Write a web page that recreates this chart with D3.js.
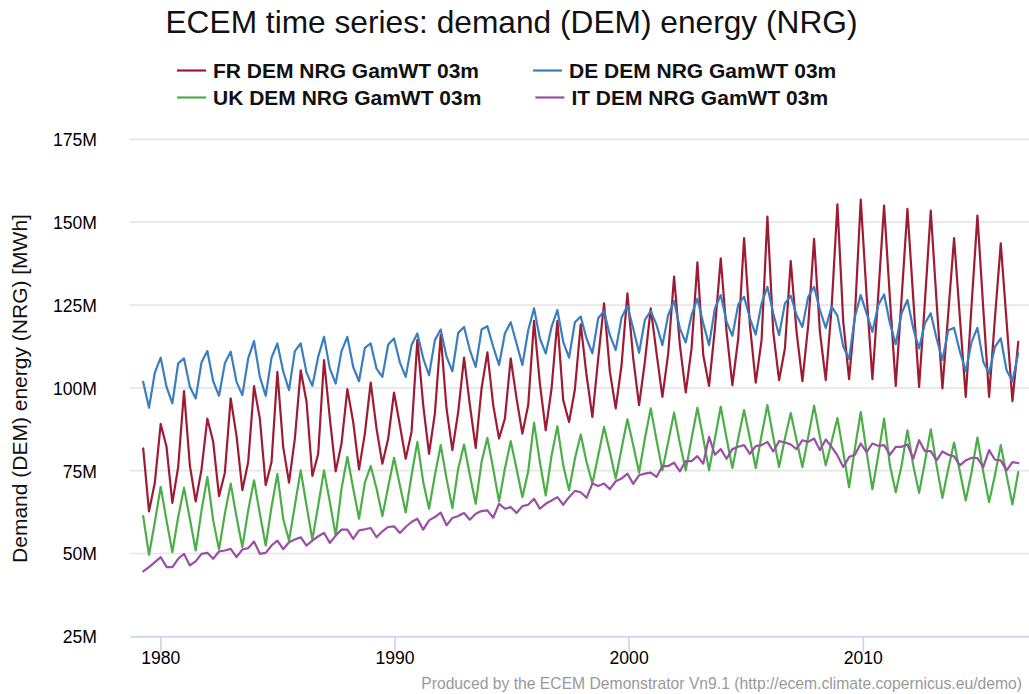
<!DOCTYPE html>
<style>
body { margin: 0; background: #fff; }
svg text { font-family: "Liberation Sans", Arial, sans-serif; }
</style>
<svg width="1029" height="694"></svg>
<script src="https://d3js.org/d3.v7.min.js"></script>
<script>

// quarterly values (MWh, millions), first point spring 1979
const frValues = [
	81.7, 62.7, 71.4, 89.1, 82.2, 65.3, 76.1, 99.0, 76.6, 65.7,
	75.4, 90.7, 83.7, 67.3, 74.4, 96.8, 85.5, 69.1, 77.6, 100.5,
	90.7, 70.6, 77.6, 104.8, 82.2, 71.4, 84.7, 105.3, 95.8, 73.4,
	80.1, 108.4, 90.7, 74.8, 83.2, 99.6, 89.7, 75.4, 86.2, 101.6,
	87.7, 77.1, 84.7, 98.6, 88.7, 78.6, 86.7, 114.5, 94.8, 80.1,
	92.2, 115.9, 93.7, 81.2, 92.7, 109.1, 94.8, 81.9, 99.8, 110.7,
	94.8, 84.7, 90.7, 108.9, 96.8, 86.2, 94.8, 120.2, 101.3, 87.2,
	99.8, 120.2, 96.3, 89.7, 99.5, 119.2, 103.8, 91.2, 108.9, 125.5,
	104.8, 93.8, 106.9, 128.5, 108.9, 94.8, 107.9, 124.0, 110.4, 97.3,
	110.4, 133.6, 112.9, 98.6, 111.9, 137.9, 109.9, 100.6, 117.9, 139.1,
	116.9, 100.8, 114.9, 145.2, 119.0, 101.6, 114.4, 151.7, 116.9, 102.3,
	111.9, 138.3, 116.9, 102.0, 119.0, 145.0, 116.9, 102.3, 124.0, 155.4,
	120.0, 102.6, 122.0, 156.8, 128.0, 102.6, 128.0, 155.0, 127.0, 100.6,
	127.0, 154.0, 127.0, 100.3, 126.0, 153.5, 126.0, 99.8, 122.5, 145.2,
	121.0, 97.3, 125.0, 152.0, 124.0, 97.3, 121.0, 143.6, 120.0, 96.0,
	113.9
];
const deValues = [
	101.8, 94.0, 104.6, 109.1, 100.3, 95.3, 107.4, 108.9, 100.3, 96.8,
	107.7, 111.1, 102.0, 97.6, 107.4, 110.9, 101.8, 97.8, 108.9, 114.1,
	103.3, 97.6, 109.1, 113.4, 105.0, 99.3, 111.1, 113.4, 104.6, 100.6,
	109.4, 115.4, 105.8, 101.3, 111.1, 115.4, 106.3, 102.0, 112.1, 113.4,
	105.8, 103.3, 113.1, 114.9, 107.7, 103.3, 112.9, 116.4, 108.9, 103.8,
	114.4, 117.6, 109.4, 105.0, 116.6, 118.4, 111.4, 106.3, 117.6, 118.6,
	112.4, 106.9, 116.4, 119.8, 113.4, 106.9, 117.4, 124.0, 114.9, 110.4,
	118.4, 123.5, 113.9, 109.1, 119.8, 121.5, 114.9, 110.4, 121.0, 123.2,
	115.9, 111.4, 121.2, 124.8, 117.9, 110.6, 120.5, 123.2, 119.0, 112.9,
	122.0, 126.2, 117.9, 113.7, 122.0, 126.9, 119.5, 112.9, 124.0, 128.0,
	120.0, 115.7, 125.2, 127.5, 121.0, 116.1, 125.5, 130.5, 122.5, 115.9,
	125.5, 127.8, 122.0, 118.4, 127.5, 130.5, 123.5, 118.1, 124.5, 121.8,
	112.5, 108.7, 121.5, 128.0, 122.5, 116.9, 125.0, 128.2, 119.5, 113.2,
	122.5, 126.5, 117.9, 111.9, 119.5, 122.5, 114.9, 108.4, 117.4, 118.1,
	110.9, 105.0, 113.9, 118.1, 107.9, 104.3, 112.4, 114.9, 105.3, 102.0,
	110.4
];
const ukValues = [
	61.3, 49.6, 59.5, 70.1, 60.0, 50.4, 61.0, 69.8, 60.5, 50.9,
	63.0, 73.1, 60.0, 51.2, 62.0, 71.1, 61.0, 51.9, 63.0, 72.1,
	62.0, 52.4, 64.0, 74.0, 60.5, 53.9, 64.5, 75.1, 64.5, 54.2,
	64.5, 75.1, 65.5, 55.4, 69.6, 79.2, 69.6, 60.5, 71.4, 76.4,
	69.6, 61.3, 70.1, 78.9, 70.6, 62.4, 73.6, 83.7, 71.6, 63.5,
	73.6, 82.7, 72.6, 63.7, 75.6, 82.9, 73.6, 65.0, 77.6, 84.9,
	75.6, 65.7, 75.6, 83.9, 75.6, 67.0, 74.8, 89.5, 77.6, 67.5,
	79.6, 88.4, 76.6, 69.1, 78.6, 85.9, 77.6, 71.1, 79.6, 88.2,
	80.6, 72.6, 81.7, 90.5, 82.7, 74.4, 84.7, 93.8, 84.2, 75.1,
	83.7, 92.5, 83.2, 75.1, 84.7, 94.0, 84.7, 75.1, 84.7, 94.3,
	84.7, 75.8, 84.7, 93.3, 84.7, 75.8, 85.7, 94.8, 85.2, 76.1,
	84.7, 92.4, 84.2, 76.1, 85.2, 94.6, 85.2, 76.6, 83.7, 90.9,
	80.6, 70.0, 81.7, 92.7, 80.6, 69.4, 79.6, 90.7, 76.6, 68.5,
	76.6, 87.2, 76.6, 68.3, 77.6, 87.5, 76.6, 66.8, 75.6, 83.5,
	74.6, 66.0, 74.6, 85.0, 74.6, 65.5, 73.6, 82.7, 73.6, 64.8,
	74.6
];
const itValues = [
	44.6, 45.9, 47.4, 48.9, 45.9, 45.9, 48.4, 49.9, 46.4, 47.6,
	49.9, 50.2, 48.4, 50.6, 50.9, 51.4, 48.9, 51.2, 51.6, 53.6,
	49.9, 50.2, 52.4, 53.9, 51.3, 53.4, 54.2, 54.9, 52.4, 53.9,
	55.2, 56.2, 53.2, 55.4, 57.2, 57.2, 54.4, 57.0, 57.3, 57.7,
	54.9, 56.7, 58.0, 58.2, 56.2, 58.0, 59.5, 60.5, 57.2, 60.0,
	61.0, 62.3, 58.5, 60.7, 61.3, 62.2, 60.2, 62.0, 62.8, 63.0,
	60.8, 65.0, 63.5, 64.0, 62.2, 64.3, 64.7, 66.5, 63.5, 65.0,
	66.0, 67.0, 64.7, 67.0, 68.9, 68.5, 66.8, 71.1, 70.4, 71.1,
	69.4, 71.8, 72.6, 74.1, 71.0, 73.6, 74.1, 74.4, 73.1, 76.4,
	76.4, 77.4, 74.8, 77.9, 77.9, 79.4, 77.1, 85.2, 79.8, 81.5,
	78.6, 81.5, 82.2, 82.7, 80.1, 82.4, 82.7, 83.7, 80.8, 83.9,
	83.5, 82.9, 81.5, 84.2, 83.7, 84.7, 81.2, 84.4, 82.2, 79.6,
	76.1, 79.1, 79.8, 83.2, 80.6, 83.2, 82.5, 82.7, 79.8, 82.2,
	82.2, 82.9, 78.6, 84.2, 80.9, 80.9, 78.1, 80.8, 79.8, 79.3,
	76.6, 78.1, 78.9, 78.8, 76.1, 81.2, 78.3, 78.1, 75.1, 77.6,
	77.3
];

const seriesNames = ['FR DEM NRG GamWT 03m', 'DE DEM NRG GamWT 03m', 'UK DEM NRG GamWT 03m', 'IT DEM NRG GamWT 03m'];
const seriesColors = ['#9e1b34', '#3a7ebf', '#4cae48', '#9a4fa5'];
const yTickValues = [25, 50, 75, 100, 125, 150, 175];
const xTickYears = [1980, 1990, 2000, 2010];

const firstDate = Date.UTC(1979, 3, 9);
const stepDays = 91;

let svg = d3.select('svg'),
	width = Number(svg.attr('width')),
	height = Number(svg.attr('height'));

const plot = {left: 130, right: 1029, top: 139.4, bottom: 636.3};

const x = d3.scaleUtc()
	.domain([new Date(Date.UTC(1980, 0, 1)), new Date(Date.UTC(2010, 0, 1))])
	.range([160.3, 862.8]);
x.domain([x.invert(plot.left), x.invert(plot.right)]).range([plot.left, plot.right]);

const y = d3.scaleLinear()
	.domain([25, 175])
	.range([plot.bottom, plot.top]);

svg.append('rect')
	.attr('width', width)
	.attr('height', height)
	.attr('fill', '#fff');

// grid
svg.append('g')
	.selectAll('line')
	.data(yTickValues.slice(1))
	.enter().append('line')
	.attr('x1', plot.left)
	.attr('x2', plot.right)
	.attr('y1', (d) => y(d))
	.attr('y2', (d) => y(d))
	.attr('stroke', '#e6e6e6')
	.attr('stroke-width', 1.7);

// y axis labels
const yAxis = svg.append('g')
	.attr('transform', `translate(${plot.left - 33},0)`)
	.call(d3.axisLeft(y).tickValues(yTickValues).tickSize(0).tickPadding(0).tickFormat((d) => `${d}M`));
yAxis.select('.domain').remove();
yAxis.selectAll('text')
	.attr('font-size', 17.6)
	.attr('fill', '#000')
	.attr('dy', '0.36em');

// x axis
const xAxis = svg.append('g')
	.attr('transform', `translate(0,${plot.bottom})`)
	.call(d3.axisBottom(x)
		.tickValues(xTickYears.map((yr) => new Date(Date.UTC(yr, 0, 1))))
		.tickSize(16)
		.tickSizeOuter(0)
		.tickPadding(-1)
		.tickFormat(d3.utcFormat('%Y')));
xAxis.select('.domain')
	.attr('stroke', '#ccd6eb')
	.attr('stroke-width', 1.7);
xAxis.selectAll('.tick line')
	.attr('stroke', '#ccd6eb')
	.attr('stroke-width', 1.7);
xAxis.selectAll('text')
	.attr('font-size', 17.6)
	.attr('fill', '#000');

// series
const valueLists = [frValues, deValues, ukValues, itValues];
const line = d3.line()
	.x((d, i) => x(new Date(firstDate + i * stepDays * 864e5)))
	.y((d) => y(d));

svg.append('g')
	.selectAll('path')
	.data(valueLists)
	.enter().append('path')
	.attr('d', (d) => line(d))
	.attr('fill', 'none')
	.attr('stroke', (d, i) => seriesColors[i])
	.attr('stroke-width', 2.2)
	.attr('stroke-linejoin', 'round')
	.attr('stroke-linecap', 'round');

// title
svg.append('text')
	.attr('x', 511.5)
	.attr('y', 33)
	.attr('text-anchor', 'middle')
	.attr('font-size', 31.7)
	.attr('fill', '#111')
	.text('ECEM time series: demand (DEM) energy (NRG)');

// legend, two rows
const legendRows = [[0, 1], [2, 3]];
const legendRowY = [70.5, 97.5];
legendRows.forEach((row, r) => {
	let lx = 177;
	row.forEach((k) => {
		const item = svg.append('g');
		item.append('line')
			.attr('x1', lx)
			.attr('x2', lx + 29)
			.attr('y1', legendRowY[r])
			.attr('y2', legendRowY[r])
			.attr('stroke', seriesColors[k])
			.attr('stroke-width', 2.2);
		const label = item.append('text')
			.attr('x', lx + 36)
			.attr('y', legendRowY[r] + 7)
			.attr('font-size', 21)
			.attr('font-weight', 'bold')
			.attr('fill', '#111')
			.text(seriesNames[k]);
		lx += 36 + label.node().getComputedTextLength() + 54;
	});
});

// y axis title
svg.append('text')
	.attr('transform', `translate(27,388.5) rotate(-90)`)
	.attr('text-anchor', 'middle')
	.attr('font-size', 21)
	.attr('fill', '#111')
	.text('Demand (DEM) energy (NRG) [MWh]');

// credits
svg.append('text')
	.attr('x', 1022)
	.attr('y', 689)
	.attr('text-anchor', 'end')
	.attr('font-size', 15.7)
	.attr('fill', '#999')
	.text('Produced by the ECEM Demonstrator Vn9.1 (http://ecem.climate.copernicus.eu/demo)');

</script>
